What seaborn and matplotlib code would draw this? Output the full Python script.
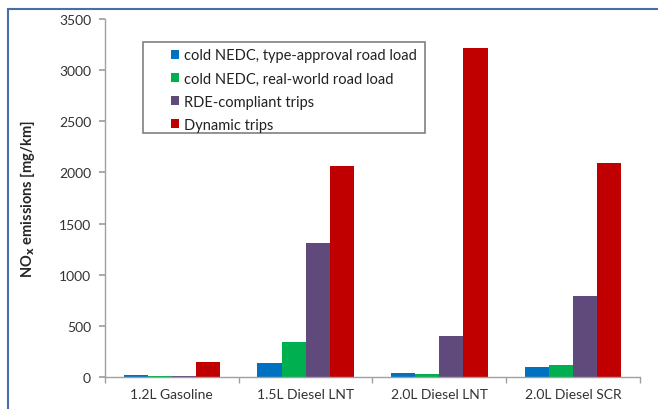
import matplotlib
matplotlib.use("Agg")
import matplotlib.pyplot as plt
import seaborn as sns
import pandas as pd
from matplotlib.patches import Rectangle

vehicles = ["1.2L Gasoline", "1.5L Diesel LNT", "2.0L Diesel LNT", "2.0L Diesel SCR"]
series = ["cold NEDC, type-approval road load", "cold NEDC, real-world road load",
          "RDE-compliant trips", "Dynamic trips"]
nedc_ta = [15, 135, 40, 98]
nedc_rw = [10, 340, 28, 120]
rde = [10, 1310, 400, 795]
dynamic = [148, 2060, 3215, 2095]
colors = ["#0070C0", "#00B050", "#604A7B", "#C00000"]

rows = []
for s, vals in zip(series, [nedc_ta, nedc_rw, rde, dynamic]):
    for v, val in zip(vehicles, vals):
        rows.append({"vehicle": v, "series": s, "value": val})
df = pd.DataFrame(rows)

sns.set_theme(style="white")
plt.rcParams['font.family'] = ['Lato', 'DejaVu Sans']

fig = plt.figure(figsize=(6.58, 4.10), dpi=100)
ax = fig.add_axes([105/658, 1-378/410, (640-105)/658, (378-20)/410])

sns.barplot(data=df, x="vehicle", y="value", hue="series", order=vehicles,
            hue_order=series, palette=colors, saturation=1, width=0.72, ax=ax,
            edgecolor="none")

ax.set_ylim(0, 3500)
ax.set_xlim(-0.5, 3.5)
ax.set_yticks(range(0, 3501, 500))
ax.tick_params(axis='y', labelsize=10, length=4, direction='out', left=True, color='#A0A0A0', labelcolor='#333333', pad=6)
ax.set_xticks(range(4))
ax.set_xticklabels(vehicles)
ax.tick_params(axis='x', which='major', length=0, labelsize=10, labelcolor='#333333', pad=8)
ax.set_xticks([-0.5, 0.5, 1.5, 2.5, 3.5], minor=True)
ax.tick_params(axis='x', which='minor', length=4, bottom=True, color='#A0A0A0')
ax.set_xlabel("")
ax.set_ylabel(r"NO$_{\mathbf{x}}$ emissions [mg/km]", fontsize=10.5, fontweight='bold', labelpad=16)
for s in ["top", "right"]:
    ax.spines[s].set_visible(False)
for s in ["left", "bottom"]:
    ax.spines[s].set_color('#A0A0A0')
    ax.spines[s].set_linewidth(1.0)

leg = ax.legend(loc="upper left", bbox_to_anchor=(0.115, 0.93), fontsize=10.5,
                handlelength=0.55, handleheight=0.55, handletextpad=0.35,
                labelspacing=0.62, borderpad=0.3, borderaxespad=0, frameon=False,
                title=None)
for t in leg.get_texts():
    t.set_color('#222222')

ax.add_patch(Rectangle((38/535, (378-134)/358), (425-143)/535, (134-43)/358,
                       transform=ax.transAxes, fill=False, edgecolor='#808080',
                       linewidth=1.2, zorder=5, clip_on=False))

fig.patches.append(Rectangle((8/658, -0.1), 1.2, 1-10/410+0.1, transform=fig.transFigure,
                             fill=False, edgecolor='#4A6CA8', linewidth=1.5, zorder=0))

fig.savefig("out.png", dpi=100)
